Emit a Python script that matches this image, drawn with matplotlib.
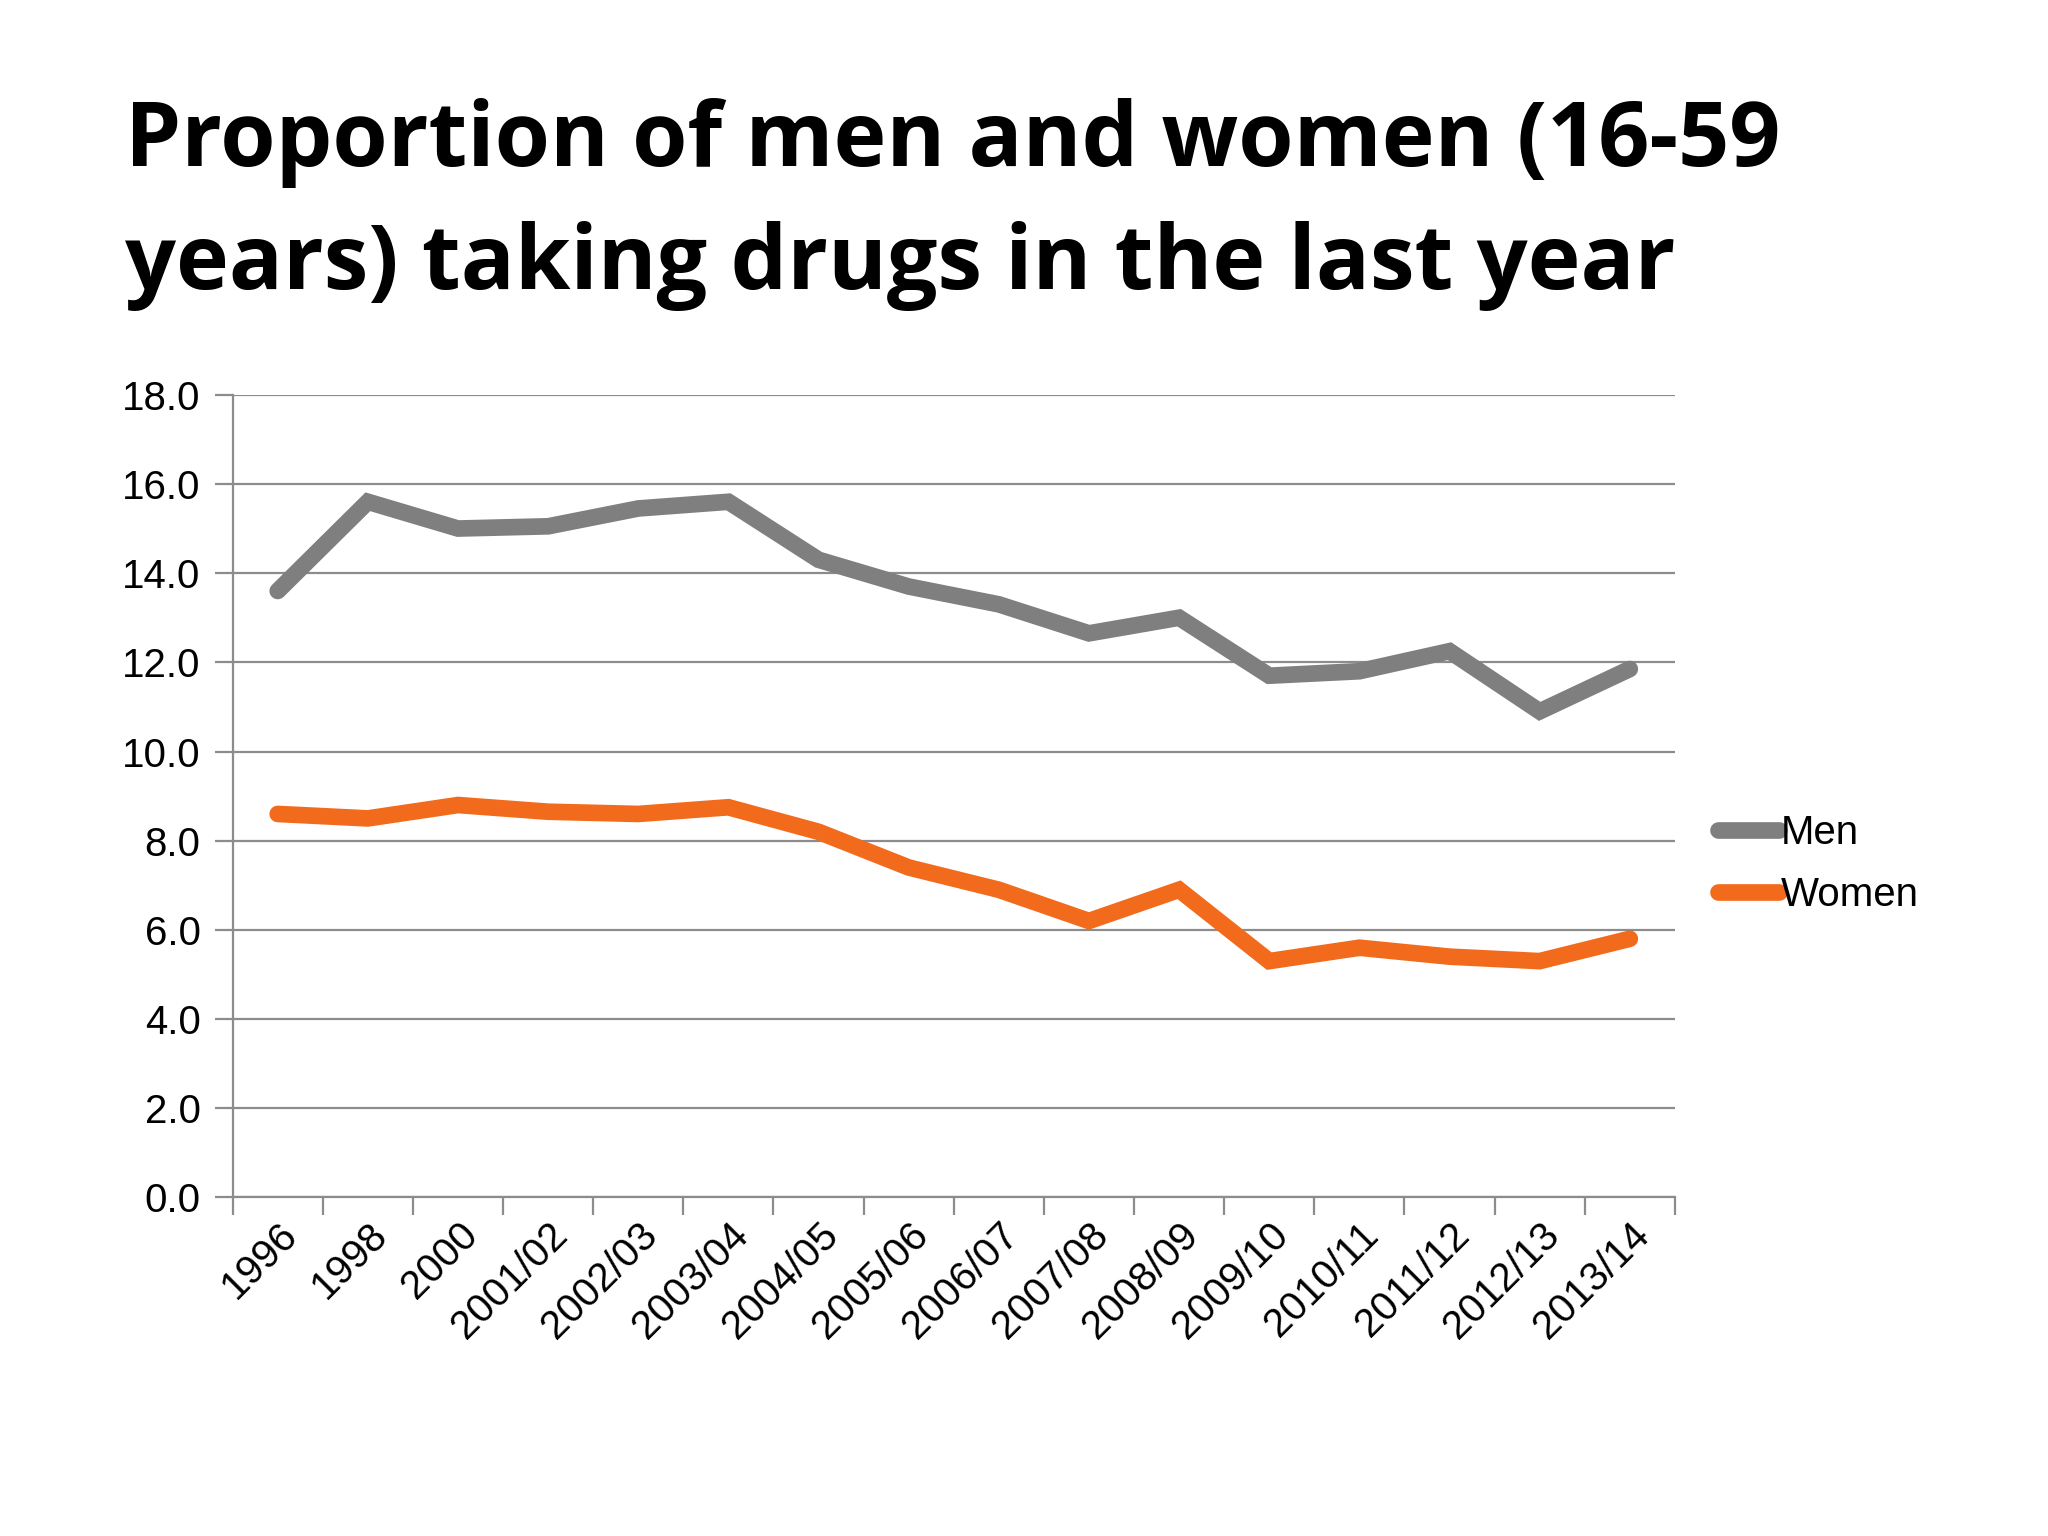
import matplotlib
matplotlib.use("Agg")
from matplotlib import pyplot as plt

# survey years and percentages
years = ['1996', '1998', '2000', '2001/02', '2002/03', '2003/04', '2004/05',
         '2005/06', '2006/07', '2007/08', '2008/09', '2009/10', '2010/11',
         '2011/12', '2012/13', '2013/14']
men = [13.6, 15.6, 15.0, 15.05, 15.45, 15.6, 14.3, 13.7, 13.3, 12.65,
       13.0, 11.7, 11.8, 12.25, 10.9, 11.85]
women = [8.6, 8.5, 8.8, 8.65, 8.6, 8.75, 8.2, 7.4, 6.9, 6.2,
         6.9, 5.3, 5.6, 5.4, 5.3, 5.8]
yticks = [0, 2, 4, 6, 8, 10, 12, 14, 16, 18]

grid_col = '#8c8c8c'

fig = plt.figure(figsize=(20.48, 15.36), dpi=100)
ax = fig.add_axes([0.1136, 0.2204, 0.7042, 0.5226])

x = list(range(len(years)))
ax.plot(x, men, color='#7f7f7f', lw=12, solid_capstyle='round',
        solid_joinstyle='miter', label='Men', zorder=3)
ax.plot(x, women, color='#f26a1b', lw=12, solid_capstyle='round',
        solid_joinstyle='miter', label='Women', zorder=3)

ax.set_xlim(-0.5, len(years) - 0.5)
ax.set_ylim(0, 18)
ax.set_yticks(yticks)
ax.set_yticklabels(['%.1f' % v for v in yticks])
ax.yaxis.grid(True, color=grid_col, lw=1.6)
ax.set_axisbelow(True)

ax.set_xticks(x)
ax.set_xticklabels(years, rotation=45, ha='right', rotation_mode='anchor')
ax.set_xticks([i - 0.5 for i in range(len(years) + 1)], minor=True)
ax.tick_params(axis='x', which='major', length=0, pad=13)
ax.tick_params(axis='x', which='minor', length=13, width=1.6, color=grid_col)
ax.tick_params(axis='y', length=13, width=1.6, color=grid_col, pad=10)
ax.tick_params(labelsize=29)
for lab in ax.get_xticklabels() + ax.get_yticklabels():
    lab.set_fontfamily('Liberation Sans')

for s in ['top', 'right']:
    ax.spines[s].set_visible(False)
for s in ['left', 'bottom']:
    ax.spines[s].set_color(grid_col)
    ax.spines[s].set_linewidth(1.6)

leg = ax.legend(loc='center left', bbox_to_anchor=(1.03, 0.415), frameon=False,
                handlelength=1.5, handletextpad=0.05, labelspacing=0.6,
                borderaxespad=0, borderpad=0,
                prop={'family': 'Liberation Sans', 'size': 29})
for h in leg.get_lines():
    h.set_solid_capstyle('round')

fig.text(0.061, 0.892, 'Proportion of men and women (16-59',
         fontsize=64.5, fontweight='bold', family='Open Sans', va='baseline')
fig.text(0.061, 0.812, 'years) taking drugs in the last year',
         fontsize=64.5, fontweight='bold', family='Open Sans', va='baseline')

fig.savefig('out.png', dpi=100)
